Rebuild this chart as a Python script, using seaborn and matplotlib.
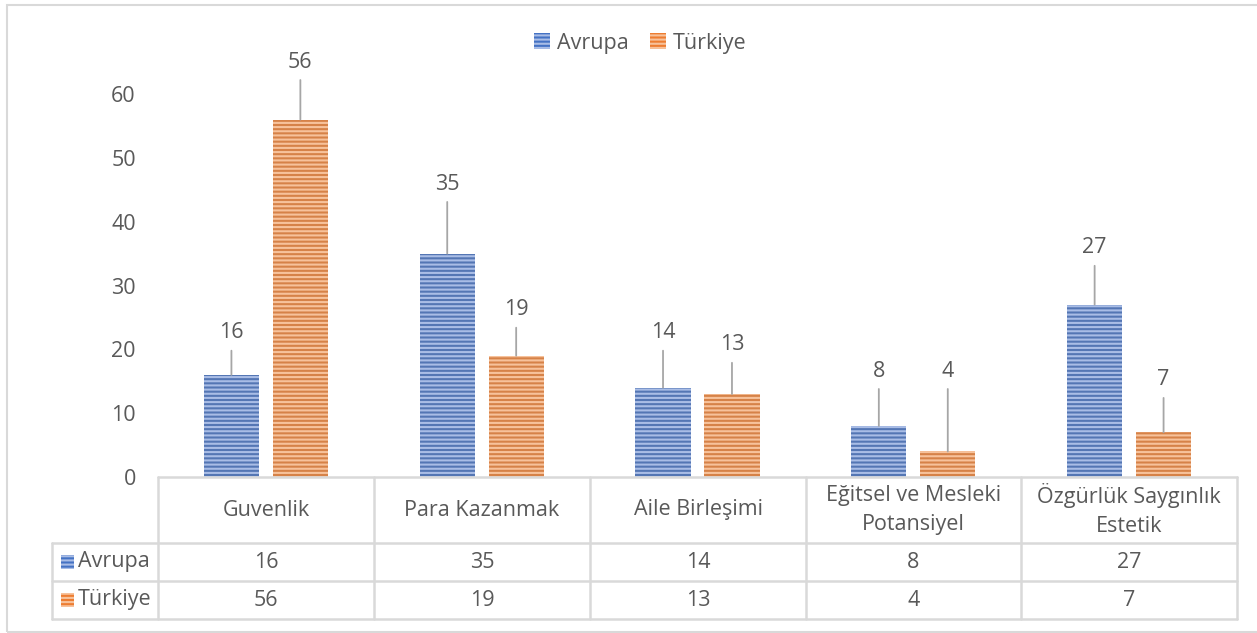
import matplotlib
matplotlib.use("Agg")
import matplotlib.pyplot as plt
import seaborn as sns
import pandas as pd
from matplotlib.lines import Line2D
from matplotlib.patches import Rectangle, Patch

categories = ["Guvenlik", "Para Kazanmak", "Aile Birleşimi",
              "Eğitsel ve Mesleki\nPotansiyel", "Özgürlük Saygınlık\nEstetik"]
series_names = ["Avrupa", "Türkiye"]
avrupa = [16, 35, 14, 8, 27]
turkiye = [56, 19, 13, 4, 7]
# vertical position of the callout labels (data units)
label_pos_avrupa = [22.6, 45.9, 22.6, 16.6, 35.9]
label_pos_turkiye = [65.0, 26.2, 20.7, 16.6, 15.2]
yticks = [0, 10, 20, 30, 40, 50, 60]

colors = {"Avrupa": "#4472C4", "Türkiye": "#ED7D31"}
hatch_colors = {"Avrupa": "#a9bde6", "Türkiye": "#f7c29b"}
TXT = "#595959"
GRID = "#d9d9d9"
FS = 15.5

sns.set_theme(style="white")
plt.rcParams["font.family"] = ["Open Sans", "DejaVu Sans"]
plt.rcParams["hatch.linewidth"] = 1.5

W, H = 1257, 633
fig = plt.figure(figsize=(W / 100, H / 100), dpi=100)
ax = fig.add_axes([158 / W, 1 - 477 / H, (1237 - 158) / W, (477 - 94) / H])

df = pd.DataFrame({
    "cat": categories * 2,
    "series": [series_names[0]] * 5 + [series_names[1]] * 5,
    "val": avrupa + turkiye,
})
sns.barplot(data=df, x="cat", y="val", hue="series", order=categories,
            hue_order=series_names, palette=colors, width=0.639, gap=0.2,
            legend=False, ax=ax, linewidth=0)

for cont, name in zip(ax.containers, series_names):
    for bar in cont:
        bar.set_hatch("----")
        bar.set_edgecolor(hatch_colors[name])
        bar.set_linewidth(0)

ax.set_xlim(-0.5, len(categories) - 0.5)
ax.set_ylim(0, 60)
ax.set_yticks(yticks)
ax.set_yticklabels([str(t) for t in yticks], color=TXT, fontsize=FS)
ax.tick_params(axis="y", length=0, pad=16)
ax.set_xticks([])
ax.set_xlabel("")
ax.set_ylabel("")
for s in ax.spines.values():
    s.set_visible(False)

# data labels with leader lines
for cont, vals, lpos in zip(ax.containers, [avrupa, turkiye],
                            [label_pos_avrupa, label_pos_turkiye]):
    for bar, v, ly in zip(cont, vals, lpos):
        xc = bar.get_x() + bar.get_width() / 2
        ax.annotate(str(v), xy=(xc, v), xytext=(xc, ly), textcoords="data",
                    ha="center", va="center", fontsize=FS, color=TXT,
                    annotation_clip=False,
                    arrowprops=dict(arrowstyle="-", color="#a6a6a6", lw=1.3,
                                    shrinkA=3, shrinkB=0))

# ---- data table below the chart ----
def fx(px):
    return px / W

def fy(py):
    return 1 - py / H

def hline(x0, x1, y):
    fig.add_artist(Line2D([fx(x0), fx(x1)], [fy(y), fy(y)], color=GRID, lw=1.8,
                          transform=fig.transFigure))

def vline(x, y0, y1):
    fig.add_artist(Line2D([fx(x), fx(x)], [fy(y0), fy(y1)], color=GRID, lw=1.8,
                          transform=fig.transFigure))

col_edges = [158, 374, 590, 806, 1021, 1237]
row_edges = [477, 543, 581, 619]
left_edge = 52

hline(col_edges[0], col_edges[-1], row_edges[0])
for y in row_edges[1:]:
    hline(left_edge, col_edges[-1], y)
for x in col_edges:
    vline(x, row_edges[0], row_edges[-1])
vline(left_edge, row_edges[1], row_edges[-1])

for i, cat in enumerate(categories):
    xc = (col_edges[i] + col_edges[i + 1]) / 2
    fig.text(fx(xc), fy((row_edges[0] + row_edges[1]) / 2), cat, ha="center",
             va="center", fontsize=FS, color=TXT, linespacing=1.45)
    for r, vals in enumerate([avrupa, turkiye]):
        fig.text(fx(xc), fy((row_edges[r + 1] + row_edges[r + 2]) / 2),
                 str(vals[i]), ha="center", va="center", fontsize=FS, color=TXT)

for r, name in enumerate(series_names):
    yc = (row_edges[r + 1] + row_edges[r + 2]) / 2
    sw = Rectangle((fx(61), fy(yc + 7)), fx(13), 14 / H, transform=fig.transFigure,
                   facecolor=colors[name], edgecolor=hatch_colors[name],
                   hatch="----", linewidth=0)
    fig.add_artist(sw)
    fig.text(fx(78), fy(yc), name, ha="left", va="center", fontsize=FS, color=TXT)

# legend
handles = [Patch(facecolor=colors[n], edgecolor=hatch_colors[n], hatch="----",
                 linewidth=0, label=n) for n in series_names]
fig.legend(handles=handles, loc="center", bbox_to_anchor=(fx(640), fy(43)),
           ncol=2, frameon=False, fontsize=FS, handlelength=0.75,
           handleheight=0.75, handletextpad=0.3, columnspacing=1.0,
           labelcolor=TXT)

# chart border
fig.add_artist(Rectangle((fx(7), fy(632)), fx(1257 + 10 - 7), (632 - 5) / H,
                         transform=fig.transFigure, fill=False,
                         edgecolor=GRID, lw=1.5))

fig.savefig("out.png", dpi=100)
